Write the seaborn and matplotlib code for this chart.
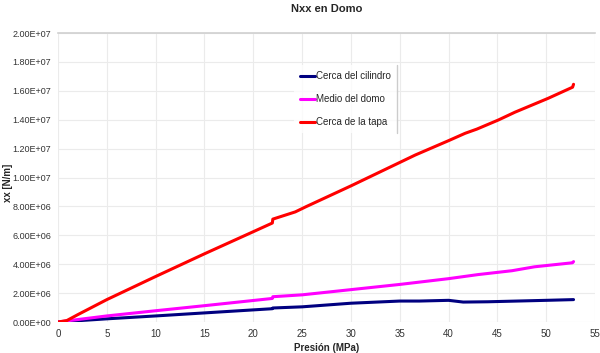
import matplotlib
matplotlib.use("Agg")
import matplotlib.pyplot as plt
import matplotlib.ticker as mticker
from matplotlib.lines import Line2D
import seaborn as sns
import pandas as pd

# --- data (values in 1e6 N/m) ---
x_cil = [0, 5, 10, 15, 21.95, 22.0, 25, 30, 35, 37, 40, 41.5, 44, 47, 50, 52.8]
y_cil = [0, 0.22, 0.42, 0.63, 0.92, 0.97, 1.05, 1.30, 1.45, 1.45, 1.50, 1.38, 1.40, 1.45, 1.50, 1.55]

x_medio = [0, 5, 10, 15, 21.95, 22.0, 25, 30, 35, 40, 43, 46.5, 48.8, 52.7, 52.8]
y_medio = [0, 0.42, 0.78, 1.13, 1.63, 1.75, 1.88, 2.24, 2.60, 3.00, 3.28, 3.55, 3.82, 4.10, 4.18]

x_tapa = [0, 0.9, 2, 5, 10, 15, 20, 21.95, 22.0, 24.3, 25.4, 30, 36.6, 40, 41.7, 42.9, 45.1, 46.8, 50.2, 52.7, 52.8]
y_tapa = [0, 0.10, 0.50, 1.55, 3.15, 4.72, 6.25, 6.85, 7.12, 7.62, 7.98, 9.42, 11.56, 12.55, 13.06, 13.35, 13.98, 14.52, 15.48, 16.25, 16.45]

series_names = ["Cerca del cilindro", "Medio del domo", "Cerca de la tapa"]
colors = ["#000080", "#FF00FF", "#FF0000"]

title = "Nxx en Domo"
xlabel = "Presión (MPa)"
ylabel = "xx [N/m]"

rows = []
for name, xs, ys in zip(series_names, [x_cil, x_medio, x_tapa], [y_cil, y_medio, y_tapa]):
    for i, (a, b) in enumerate(zip(xs, ys)):
        rows.append({"serie": name, "idx": i, "x": a, "y": b * 1e6})
df = pd.DataFrame(rows)

sns.set_theme(style="white")
plt.rcParams["font.family"] = ["Liberation Sans", "DejaVu Sans"]

fig = plt.figure(figsize=(6.0, 3.53), dpi=100)
ax = fig.add_axes([0.0967, 0.0878, 0.895, 0.8187])

sns.lineplot(data=df, x="x", y="y", hue="serie", hue_order=series_names,
             palette=colors, estimator=None, sort=False, units="serie",
             linewidth=2.2, ax=ax, legend=False)

ax.set_xlim(0, 55)
ax.set_ylim(0, 2e7)
ax.xaxis.set_major_locator(mticker.MultipleLocator(5))
ax.yaxis.set_major_locator(mticker.MultipleLocator(2e6))
ax.yaxis.set_major_formatter(mticker.FuncFormatter(lambda v, p: "%.2E" % v))

ax.grid(True, color="#ebebeb", linewidth=0.8)
for s in ["left", "right", "bottom"]:
    ax.spines[s].set_visible(False)
ax.spines["top"].set_color("#d0d0d0")
ax.spines["top"].set_linewidth(1.2)

ax.tick_params(axis="both", labelsize=6.5, colors="#333333", length=3,
               width=0.6, direction="out", pad=2)
ax.tick_params(axis="both", color="#cccccc")
ax.tick_params(axis="x", labelsize=7, length=0, pad=5)

ax.set_title(title, fontsize=8, fontweight="bold", pad=15)
ax.set_xlabel(xlabel, fontsize=7, fontweight="bold")
ax.set_ylabel(ylabel, fontsize=7, fontweight="bold")
ax.xaxis.set_label_coords(0.5, -0.073)
ax.yaxis.set_label_coords(-0.094, 0.48)
ax.yaxis.label.set_verticalalignment("center")

handles = [Line2D([0], [0], color=c, linewidth=2.2) for c in colors]
leg = ax.legend(handles, series_names, loc="upper left",
                bbox_to_anchor=(0.43, 0.905), frameon=True, fontsize=7,
                handlelength=1.6, handletextpad=0.1, labelspacing=1.35,
                borderpad=0.6, fancybox=False)
leg.get_frame().set_facecolor("white")
leg.get_frame().set_edgecolor("none")

fig.canvas.draw()
bb = leg.get_window_extent().transformed(ax.transAxes.inverted())
ax.add_line(Line2D([bb.x1, bb.x1], [bb.y0, bb.y1], transform=ax.transAxes,
                   color="#cccccc", linewidth=1.0, zorder=10))

fig.savefig("out.png", dpi=100)
